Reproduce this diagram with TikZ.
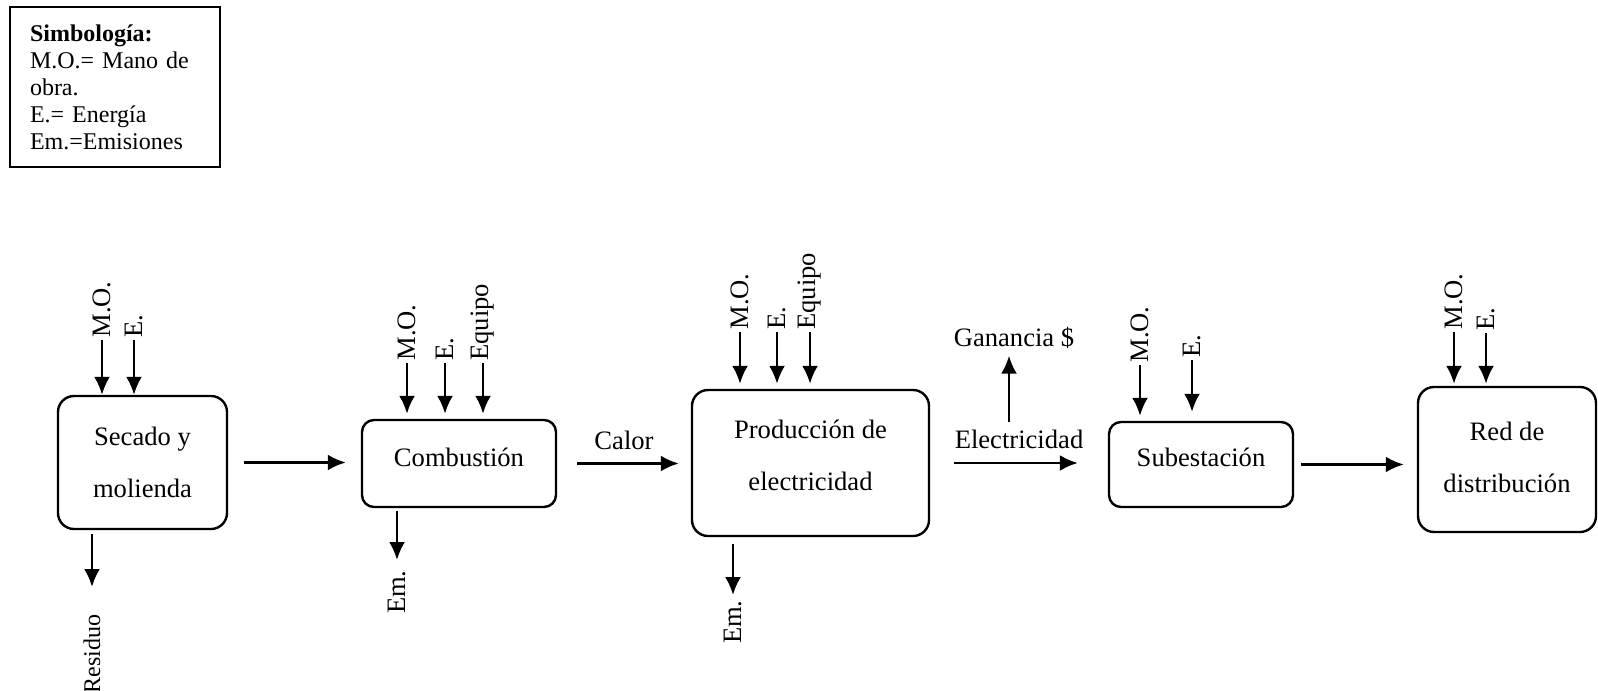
\documentclass[tikz,border=0pt]{standalone}
\usepackage{fontspec}
\setmainfont{Liberation Serif}
\usepackage{tikz}
\usetikzlibrary{
  arrows.meta,
  positioning,
  calc
}
\tikzset{>={Latex[length=9pt,width=8pt]}}
\tikzset{font=\fontsize{13.3}{26}\selectfont}
\tikzset{proc/.style={draw, line width=1.2pt, rounded corners=8pt, align=center},
  flow/.style={->, line width=1.3pt, shorten >=2pt},
  tag/.style={rotate=90, inner sep=1pt}}

\begin{document}
\begin{tikzpicture}[x=0.5pt, y=-0.5pt]
  \useasboundingbox (0,0) rectangle (1598,690);
  % simbologia
  \node[draw, line width=1pt, anchor=north west, minimum height=80pt, align=left,
    inner xsep=10pt, text width=85pt, font=\fontsize{12}{13.5}\selectfont] (leyenda) at (9,6)
    {\textbf{Simbología:}\\M.O.= Mano de\\obra.\\E.= Energía\\Em.=Emisiones};

  % etapas
  \node[proc, minimum width=84.5pt, minimum height=66.5pt] (secado) at (142.5,462.5) {Secado y\\molienda};
  \node[proc, rounded corners=6pt, minimum width=97pt, minimum height=43.5pt, text depth=6.4pt] (combustion) at (459,463.5) {Combustión};
  \node[proc, minimum width=118.5pt, minimum height=73pt, text depth=8pt] (produccion) at (810.5,463) {Producción de\\electricidad};
  \node[proc, rounded corners=6pt, minimum width=92pt, minimum height=42.5pt, text depth=7.5pt] (subestacion) at (1201,464.5) {Subestación};
  \node[proc, minimum width=89pt, minimum height=72.5pt, text depth=2.5pt] (red) at (1507,459.5) {Red de\\distribución};

  % flujo principal
  \draw[flow, shorten <=8pt, shorten >=7.5pt] (secado.east) -- (secado.east -| combustion.west);
  \draw[flow, shorten <=10pt, shorten >=6pt] (combustion.east) -- node[above=3pt] (calor) {Calor} (combustion.east -| produccion.west);
  \draw[flow, shorten <=12pt, shorten >=15pt] (produccion.east) -- node[above=3pt] (elec) {Electricidad} (produccion.east -| subestacion.west);
  \draw[flow, shorten <=3.5pt, shorten >=6.5pt] (subestacion.east) -- (subestacion.east -| red.west);
  \node (ganancia) at (1014,338) {Ganancia \$};
  \draw[flow, shorten >=0pt] ([xshift=-5pt]elec.north) -- ([xshift=-5pt]elec.north |- ganancia.south);

  % entradas
  \node[tag, anchor=west] (mo1) at (102,340) {M.O.};
  \node[tag, anchor=west] (e1) at (134,340) {E.};
  \draw[flow, shorten >=0pt] (mo1.west) -- (mo1.west |- secado.north);
  \draw[flow, shorten >=0pt] (e1.west) -- (e1.west |- secado.north);

  \node[tag, anchor=west] (mo2) at (407,363) {M.O.};
  \node[tag, anchor=west] (e2) at (445,363) {E.};
  \node[tag, anchor=west] (eq2) at (483,363) {Equipo};
  \draw[flow, shorten >=2.5pt] (mo2.west) -- (mo2.west |- combustion.north);
  \draw[flow, shorten >=2.5pt] (e2.west) -- (e2.west |- combustion.north);
  \draw[flow, shorten >=2.5pt] (eq2.west) -- (eq2.west |- combustion.north);

  \node[tag, anchor=west] (mo3) at (740,332) {M.O.};
  \node[tag, anchor=west] (e3) at (777,332) {E.};
  \node[tag, anchor=west] (eq3) at (810,332) {Equipo};
  \draw[flow, shorten >=2.5pt] (mo3.west) -- (mo3.west |- produccion.north);
  \draw[flow, shorten >=2.5pt] (e3.west) -- (e3.west |- produccion.north);
  \draw[flow, shorten >=2.5pt] (eq3.west) -- (eq3.west |- produccion.north);

  \node[tag, anchor=west] (mo4) at (1140,365) {M.O.};
  \node[tag, anchor=west] (e4) at (1192,360) {E.};
  \draw[flow, shorten >=2.5pt] (mo4.west) -- (mo4.west |- subestacion.north);
  \draw[flow, shorten >=4.5pt] (e4.west) -- (e4.west |- subestacion.north);

  \node[tag, anchor=west] (mo5) at (1454,332) {M.O.};
  \node[tag, anchor=west] (e5) at (1486,333) {E.};
  \draw[flow, shorten >=1pt] (mo5.west) -- (mo5.west |- red.north);
  \draw[flow, shorten >=1pt] (e5.west) -- (e5.west |- red.north);

  % salidas
  \node[tag, anchor=east, font=\fontsize{12}{14}\selectfont] (residuo) at (92,612) {Residuo};
  \draw[flow, shorten <=2pt, shorten >=12.5pt] (residuo.east |- secado.south) -- (residuo.east);
  \node[tag, anchor=east] (em2) at (397,568) {Em.};
  \draw[flow, shorten <=1.5pt, shorten >=4pt] (em2.east |- combustion.south) -- (em2.east);
  \node[tag, anchor=east] (em3) at (733,598) {Em.};
  \draw[flow, shorten <=3.5pt, shorten >=1.5pt] (em3.east |- produccion.south) -- (em3.east);
\end{tikzpicture}
\end{document}
